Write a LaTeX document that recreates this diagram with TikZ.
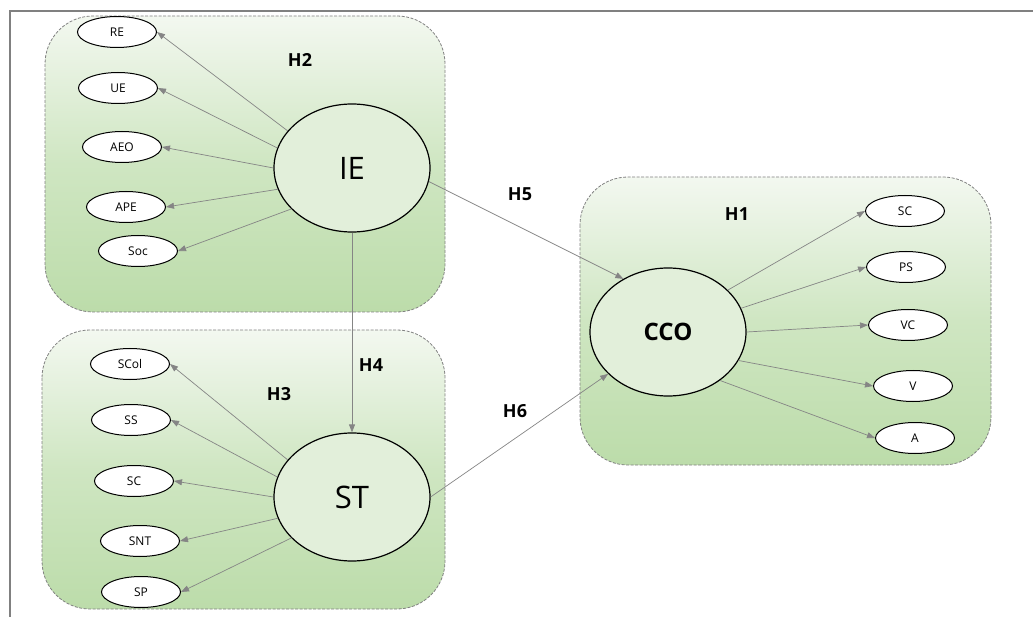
\documentclass[tikz,border=0pt]{standalone}
\usepackage{fontspec}
\setmainfont{Open Sans}
\usetikzlibrary{shapes.geometric,arrows.meta}

\definecolor{boxtop}{HTML}{F3F8F0}
\definecolor{boxmid}{HTML}{CFE6C2}
\definecolor{boxbot}{HTML}{BCDCAA}
\definecolor{latentfill}{HTML}{E2EFDA}
\definecolor{linkgray}{HTML}{858585}
\definecolor{framegray}{HTML}{808080}

\tikzset{
  groupbox/.style={draw=gray,dash pattern=on 3pt off 1.5pt,line width=0.8pt,rounded corners=48pt,
    top color=boxtop,bottom color=boxbot,middle color=boxmid},
  latent/.style={ellipse,draw=black,line width=1.2pt,fill=latentfill,minimum width=156pt,
    minimum height=128pt,inner sep=0pt},
  indicator/.style={ellipse,draw=black,line width=1pt,fill=white,minimum width=79pt,
    minimum height=31pt,inner sep=0pt,font=\fontsize{12}{14}\selectfont},
  link/.style={draw=linkgray,line width=0.7pt,-{Triangle[length=8pt,width=6pt]}},
  hyp/.style={font=\fontsize{18}{21}\selectfont\bfseries}
}

\begin{document}
\begin{tikzpicture}[x=1pt,y=-1pt]
\useasboundingbox (0,0) rectangle (1033,617);
% frame
\draw[framegray,line width=1.3pt] (1033,11) -- (10,11) -- (10,617);
% group boxes
\path[groupbox] (45,16) rectangle (445,312);
\path[groupbox] (42,330) rectangle (445,609);
\path[groupbox] (580,177) rectangle (991,465);
% latent constructs
\node[latent,font=\fontsize{31}{35}\selectfont] (ie) at (352,168) {IE};
\node[latent,font=\fontsize{31}{35}\selectfont] (st) at (352,497) {ST};
\node[latent,font=\fontsize{24}{27}\selectfont\bfseries] (cco) at (668,332) {CCO};
% indicators of IE
\node[indicator] (re) at (117,32) {RE};
\node[indicator] (ue) at (118,88) {UE};
\node[indicator] (aeo) at (122,147) {AEO};
\node[indicator] (ape) at (126,207) {APE};
\node[indicator] (soc) at (138,251) {Soc};
% indicators of ST
\node[indicator] (scol) at (130,364) {SCol};
\node[indicator] (ss) at (131,420) {SS};
\node[indicator] (sc-st) at (134,481) {SC};
\node[indicator] (snt) at (140,541) {SNT};
\node[indicator] (sp) at (141,592) {SP};
% indicators of CCO
\node[indicator] (sc-cco) at (905,211) {SC};
\node[indicator] (ps) at (906,267) {PS};
\node[indicator] (vc) at (908,325) {VC};
\node[indicator] (v) at (913,386) {V};
\node[indicator] (a) at (915,438) {A};
% hypotheses
\node[hyp] (h2) at (300,60) {H2};
\node[hyp] (h5) at (520,194) {H5};
\node[hyp] (h1) at (737,214) {H1};
\node[hyp] (h4) at (371,365) {H4};
\node[hyp] (h3) at (279,394) {H3};
\node[hyp] (h6) at (515,411) {H6};
% loadings
\draw[link] (ie.150) -- (re.east);
\draw[link] (ie.165) -- (ue.east);
\draw[link] (ie.180) -- (aeo.east);
\draw[link] (ie.196) -- (ape.east);
\draw[link] (ie.214) -- (soc.east);
\draw[link] (st.150) -- (scol.east);
\draw[link] (st.165) -- (ss.east);
\draw[link] (st.180) -- (sc-st.east);
\draw[link] (st.196) -- (snt.east);
\draw[link] (st.214) -- (sp.east);
\draw[link] (cco.35) -- (sc-cco.west);
\draw[link] (cco.18) -- (ps.west);
\draw[link] (cco.0) -- (vc.west);
\draw[link] (cco.-22) -- (v.west);
\draw[link] (cco.-43) -- (a.west);
% structural paths
\draw[link] (ie.south) -- (st.north);
\draw[link] (ie.-10) -- (cco.130);
\draw[link] (st.east) -- (cco.-145);
\end{tikzpicture}
\end{document}
